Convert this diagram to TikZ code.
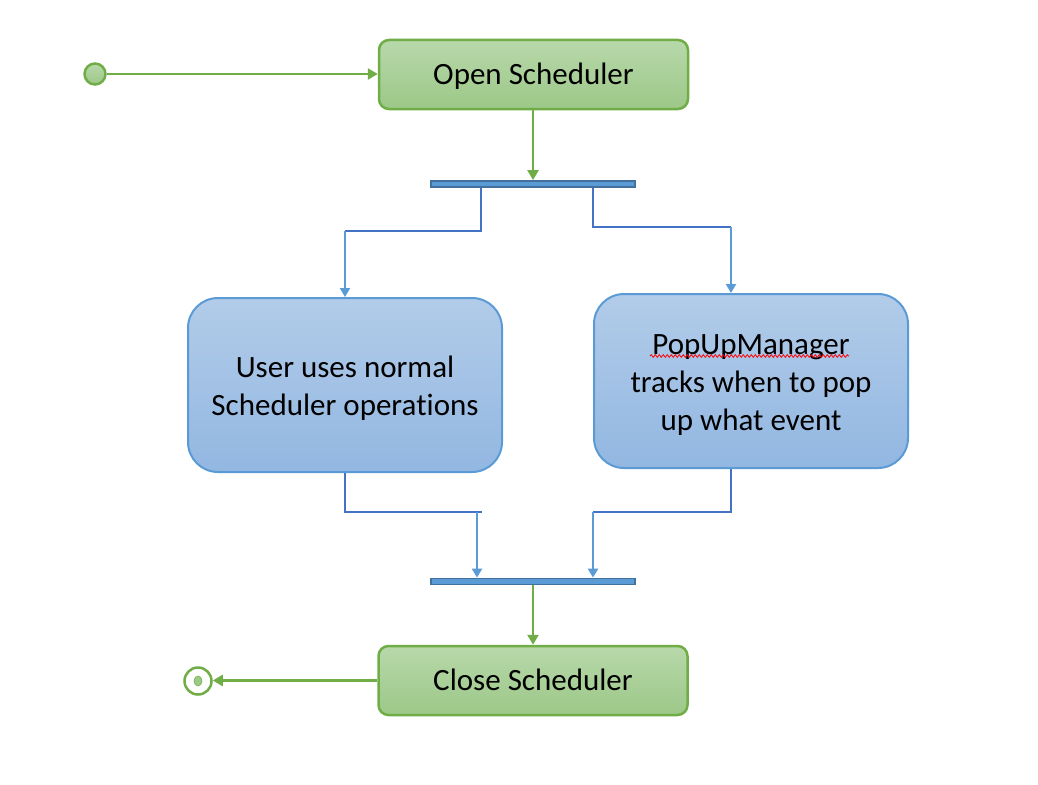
\documentclass[tikz,border=0pt]{standalone}
\usepackage{fontspec}
\setmainfont[Ligatures={NoCommon}]{Carlito}
\usetikzlibrary{arrows.meta,decorations.pathmorphing,shapes.geometric}
\definecolor{gborder}{HTML}{70AD47}
\definecolor{gtop}{HTML}{B8D8AA}
\definecolor{gbot}{HTML}{9CC888}
\definecolor{bborder}{HTML}{5B9BD5}
\definecolor{btop}{HTML}{B2CCE9}
\definecolor{bbot}{HTML}{92B7E1}
\definecolor{dkblue}{HTML}{4472C4}
\definecolor{ltblue}{HTML}{5B9BD5}
\definecolor{barfill}{HTML}{5B9BD5}
\definecolor{barborder}{HTML}{41719C}
\tikzset{
  greenbox/.style={draw=gborder, line width=2.5pt, rounded corners=10pt, top color=gtop, bottom color=gbot,
    minimum width=309pt, minimum height=69pt, inner sep=0pt, text height=20pt, text depth=0pt,
    font=\fontsize{31}{38}\selectfont},
  bluebox/.style={draw=bborder, line width=2pt, rounded corners=30pt, top color=btop, bottom color=bbot,
    minimum width=314pt, minimum height=174pt, inner sep=0pt},
  boxtext/.style={inner sep=0pt, align=center, font=\fontsize{31}{38}\selectfont},
  bar/.style={draw=barborder, fill=barfill, line width=1.8pt, minimum width=204pt, minimum height=6pt, inner sep=0pt},
  gline/.style={draw=gborder, line width=2.5pt},
  garrow/.style={gline, -{Triangle[length=10pt,width=11pt]}},
  dkline/.style={draw=dkblue, line width=2.2pt},
  ltarrow/.style={draw=ltblue, line width=2.2pt, -{Triangle[length=9pt,width=10pt]}},
}
\begin{document}
\begin{tikzpicture}[x=1pt,y=-1pt]
\useasboundingbox (0,0) rectangle (1038,784);
% nodes
\node[circle, draw=gborder, line width=2.5pt, top color=gtop, bottom color=gbot, minimum size=21pt, inner sep=0pt] (start) at (95,74) {};
\node[greenbox] (open) at (533.5,74.5) {Open Scheduler};
\node[bar] (fork) at (533,184) {};
\node[bluebox] (user) at (345,385) {};
\node[boxtext] (usertext) at ([yshift=-3pt]user.center) {User uses normal\\Scheduler operations};
\node[bluebox] (pop) at (751,381) {};
\node[boxtext] (poptext) at ([yshift=-4pt]pop.center) {PopUpManager\\tracks when to pop\\up what event};
\node[bar] (join) at (533,581.5) {};
\node[greenbox] (close) at (533,680.5) {Close Scheduler};
\node[circle, draw=gborder, line width=2.5pt, fill=white, minimum size=27pt, inner sep=0pt] (end) at (198,681) {};
\node[ellipse, fill=gbot, draw=gborder, line width=0.6pt, minimum width=8pt, minimum height=10pt, inner sep=0pt] (enddot) at (end.center) {};
% spell-check squiggle
\draw[red, line width=0.8pt, decorate, decoration={snake, amplitude=1.3pt, segment length=4pt}] (650,356) -- (849,356);
% connectors
\draw[garrow] (start.east) -- (start.east -| open.west);
\draw[garrow] (open.south -| fork.north) -- (fork.north);
% fork left
\coordinate (fl) at (481,231);
\draw[dkline] (fork.south -| fl) -- (fl) -- (fl -| user.north);
\draw[ltarrow] (fl -| user.north) -- (user.north);
% fork right
\coordinate (fr) at (593,227);
\coordinate (frin) at (731,227);
\draw[dkline] (fork.south -| fr) -- (fr) -- (frin);
\draw[ltarrow] (frin) -- (frin |- pop.north);
% join left
\coordinate (jl) at (482,512);
\coordinate (jla) at (477,512);
\draw[dkline] (user.south) -- (user.south |- jl) -- (jl);
\draw[ltarrow] (jla) -- (jla |- join.north);
% join right
\coordinate (jr) at (593,512);
\coordinate (jrout) at (731,512);
\draw[dkline] (jrout |- pop.south) -- (jrout) -- (jr);
\draw[ltarrow] (jr) -- (jr |- join.north);
% to close
\draw[garrow] (join.south) -- (close.north);
\draw[garrow] (close.west) -- (close.west -| end.east);
\end{tikzpicture}
\end{document}
